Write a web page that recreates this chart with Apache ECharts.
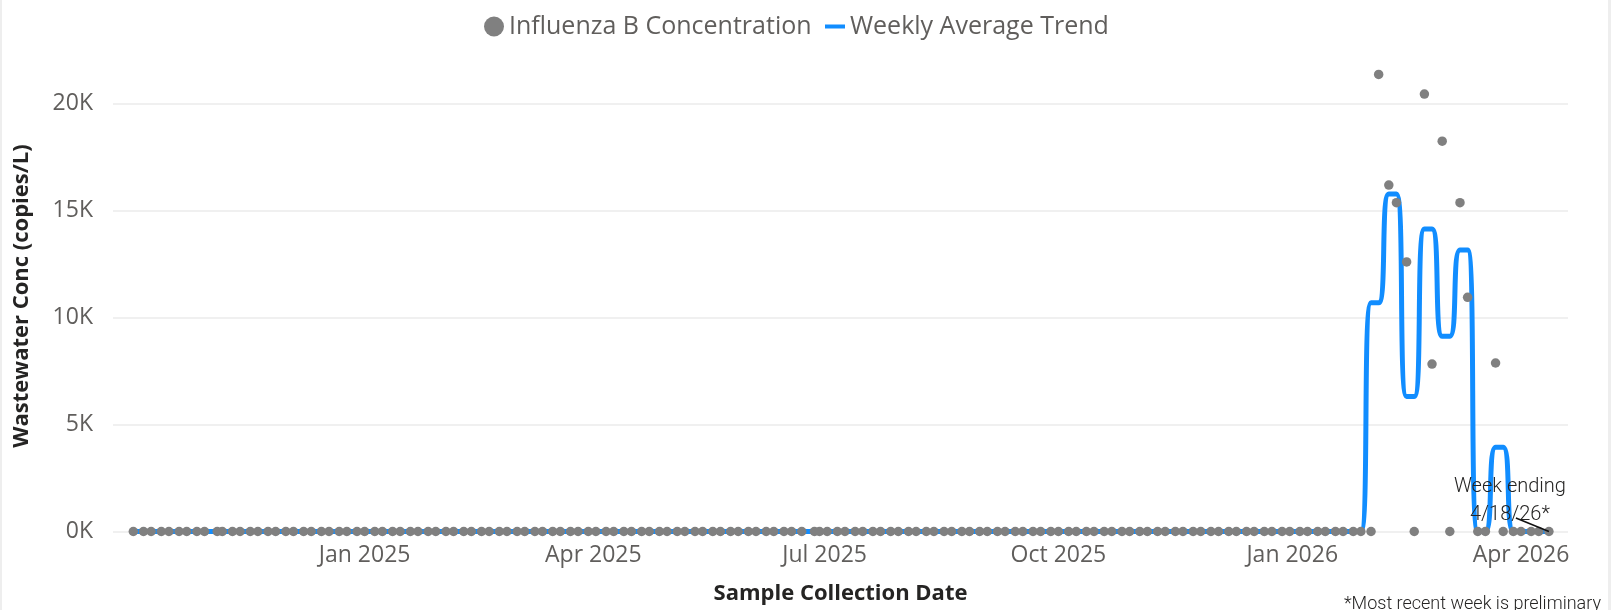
<!DOCTYPE html>
<html>
<head>
<meta charset="utf-8">
<script src="https://cdn.jsdelivr.net/npm/echarts@6/dist/echarts.min.js"></script>
<style>
html,body{margin:0;padding:0;background:#fff;}
#chart{width:1621px;height:610px;}
</style>
</head>
<body>
<div id="chart"></div>
<script>
// Sample collection dates (rows = months)
const sampleDates = [
 '2024-10-02','2024-10-06','2024-10-09','2024-10-13','2024-10-16','2024-10-20','2024-10-23','2024-10-27','2024-10-30',
 '2024-11-04','2024-11-06','2024-11-10','2024-11-13','2024-11-17','2024-11-20','2024-11-24','2024-11-27',
 '2024-12-01','2024-12-04','2024-12-08','2024-12-11','2024-12-15','2024-12-18','2024-12-22','2024-12-25','2024-12-29',
 '2025-01-01','2025-01-05','2025-01-08','2025-01-12','2025-01-15','2025-01-19','2025-01-22','2025-01-26','2025-01-29',
 '2025-02-02','2025-02-05','2025-02-09','2025-02-12','2025-02-16','2025-02-19','2025-02-23','2025-02-26',
 '2025-03-02','2025-03-05','2025-03-09','2025-03-12','2025-03-16','2025-03-19','2025-03-23','2025-03-26','2025-03-30',
 '2025-04-02','2025-04-06','2025-04-09','2025-04-13','2025-04-16','2025-04-20','2025-04-23','2025-04-27','2025-04-30',
 '2025-05-04','2025-05-07','2025-05-11','2025-05-14','2025-05-18','2025-05-21','2025-05-25','2025-05-28',
 '2025-06-01','2025-06-04','2025-06-08','2025-06-11','2025-06-15','2025-06-18','2025-06-22','2025-06-27','2025-06-29',
 '2025-07-02','2025-07-06','2025-07-09','2025-07-13','2025-07-16','2025-07-20','2025-07-23','2025-07-27','2025-07-30',
 '2025-08-03','2025-08-06','2025-08-10','2025-08-13','2025-08-17','2025-08-20','2025-08-24','2025-08-27','2025-08-31',
 '2025-09-03','2025-09-07','2025-09-10','2025-09-14','2025-09-17','2025-09-21','2025-09-24','2025-09-28',
 '2025-10-01','2025-10-05','2025-10-08','2025-10-12','2025-10-15','2025-10-19','2025-10-22','2025-10-26','2025-10-29',
 '2025-11-02','2025-11-05','2025-11-09','2025-11-12','2025-11-16','2025-11-19','2025-11-23','2025-11-26','2025-11-30',
 '2025-12-03','2025-12-07','2025-12-10','2025-12-14','2025-12-17','2025-12-21','2025-12-24','2025-12-28','2025-12-31',
 '2026-01-04','2026-01-07','2026-01-11','2026-01-14','2026-01-18','2026-01-21','2026-01-25','2026-01-28',
 '2026-02-01','2026-02-04','2026-02-08','2026-02-11','2026-02-15','2026-02-18','2026-02-22','2026-02-25',
 '2026-03-01','2026-03-04','2026-03-08','2026-03-11','2026-03-15','2026-03-18','2026-03-22','2026-03-25','2026-03-29',
 '2026-04-01','2026-04-05','2026-04-08','2026-04-12'
];

// Influenza B concentration per sample (copies/L), same row layout
const concentration = [
 0,0,0,0,0,0,0,0,0,
 0,0,0,0,0,0,0,0,
 0,0,0,0,0,0,0,0,0,
 0,0,0,0,0,0,0,0,0,
 0,0,0,0,0,0,0,0,
 0,0,0,0,0,0,0,0,0,
 0,0,0,0,0,0,0,0,0,
 0,0,0,0,0,0,0,0,
 0,0,0,0,0,0,0,0,0,
 0,0,0,0,0,0,0,0,0,
 0,0,0,0,0,0,0,0,0,
 0,0,0,0,0,0,0,0,
 0,0,0,0,0,0,0,0,0,
 0,0,0,0,0,0,0,0,0,
 0,0,0,0,0,0,0,0,0,
 0,0,0,0,0,0,0,0,
 0,21350,16180,15360,12590,0,20430,7820,
 18230,0,15360,10940,0,0,7870,0,0,
 0,0,0,0
];

// Weekly average trend value shown at each sample date
const weeklyAverage = [
 0,0,0,0,0,0,0,0,0,
 0,0,0,0,0,0,0,0,
 0,0,0,0,0,0,0,0,0,
 0,0,0,0,0,0,0,0,0,
 0,0,0,0,0,0,0,0,
 0,0,0,0,0,0,0,0,0,
 0,0,0,0,0,0,0,0,0,
 0,0,0,0,0,0,0,0,
 0,0,0,0,0,0,0,0,0,
 0,0,0,0,0,0,0,0,0,
 0,0,0,0,0,0,0,0,0,
 0,0,0,0,0,0,0,0,
 0,0,0,0,0,0,0,0,0,
 0,0,0,0,0,0,0,0,0,
 0,0,0,0,0,0,0,0,0,
 0,0,0,0,0,0,0,0,
 10680,10680,15770,15770,6300,6300,14130,14130,
 9120,9120,13150,13150,0,0,3940,3940,0,
 0,0,0,0
];

const tickDates = ['2025-01-01','2025-04-01','2025-07-01','2025-10-01','2026-01-01','2026-04-01'];
const tickLabels = ['Jan 2025','Apr 2025','Jul 2025','Oct 2025','Jan 2026','Apr 2026'];
const xRange = ['2024-09-24T00:00:00','2026-04-19T12:00:00'];
const annotationText = 'Week ending\n4/18/26*';
const annotationEnd = ['2026-03-30T00:00:00', 630];
const footnote = '*Most recent week is preliminary';

function toTime(s){ return new Date(s.length === 10 ? s + 'T00:00:00' : s).getTime(); }
const tickTimes = tickDates.map(toTime);
const lastIdx = sampleDates.length - 1;

const FONT = '"Open Sans", "Noto Sans", sans-serif';
const DIN = 'Roboto, "DejaVu Sans Condensed", sans-serif';

const chart = echarts.init(document.getElementById('chart'), null, {renderer: 'canvas'});

const scatterData = sampleDates.map((d, i) => {
  const item = { value: [toTime(d), concentration[i]] };
  if (i === lastIdx) {
    item.label = {
      show: true,
      formatter: annotationText,
      position: 'top',
      distance: 5,
      offset: [-39, 7],
      fontFamily: DIN,
      fontSize: 20,
      lineHeight: 28,
      fontWeight: 300,
      color: '#252423',
      align: 'center'
    };
  }
  return item;
});
const lineData = sampleDates.map((d, i) => [toTime(d), weeklyAverage[i]]);

chart.setOption({
  animation: false,
  backgroundColor: '#ffffff',
  legend: [
    {
      data: ['Influenza B Concentration'],
      left: 484, top: 14, padding: 0,
      icon: 'circle', itemWidth: 20, itemHeight: 20,
      itemStyle: { borderWidth: 0, opacity: 1 },
      textStyle: { fontFamily: FONT, fontSize: 25, color: '#605E5C' },
      selectedMode: false
    },
    {
      data: ['Weekly Average Trend'],
      left: 825, top: 14, padding: 0,
      icon: 'rect', itemWidth: 20, itemHeight: 4,
      itemStyle: { borderWidth: 0 },
      textStyle: { fontFamily: FONT, fontSize: 25, color: '#605E5C' },
      selectedMode: false
    }
  ],
  grid: { left: 113, right: 53, top: 60.5, bottom: 78.5, containLabel: false, outerBoundsMode: 'none' },
  xAxis: {
    type: 'value',
    min: toTime(xRange[0]),
    max: toTime(xRange[1]),
    axisLine: { show: false },
    axisTick: { show: false },
    splitLine: { show: false },
    axisLabel: {
      customValues: tickTimes,
      formatter: function (v) { const k = tickTimes.indexOf(v); return k >= 0 ? tickLabels[k] : ''; },
      fontFamily: FONT, fontSize: 23, color: '#605E5C', margin: 12,
      hideOverlap: false
    },
    name: 'Sample Collection Date',
    nameLocation: 'middle',
    nameGap: 51,
    nameTextStyle: { fontFamily: FONT, fontSize: 22, fontWeight: 'bold', color: '#252423' }
  },
  yAxis: {
    type: 'value',
    min: 0, max: 22000, interval: 5000,
    axisLine: { show: false },
    axisTick: { show: false },
    axisLabel: {
      formatter: v => (v / 1000) + 'K',
      showMaxLabel: false,
      fontFamily: FONT, fontSize: 23, color: '#605E5C', margin: 20
    },
    splitLine: { show: true, showMaxLine: false, lineStyle: { color: '#EBEBEB', width: 1.5 } },
    name: 'Wastewater Conc (copies/L)',
    nameLocation: 'middle',
    nameGap: 80,
    nameTextStyle: { fontFamily: FONT, fontSize: 22, fontWeight: 'bold', color: '#252423' }
  },
  series: [
    {
      name: 'Influenza B Concentration',
      type: 'scatter',
      data: scatterData,
      symbolSize: 9.5,
      itemStyle: { color: '#808080', opacity: 1 },
      z: 3,
      markLine: {
        silent: true,
        symbol: ['none', 'none'],
        label: { show: false },
        lineStyle: { color: '#111111', width: 1.5, type: 'solid' },
        data: [[
          { coord: [toTime(sampleDates[lastIdx]), concentration[lastIdx]] },
          { coord: [toTime(annotationEnd[0]), annotationEnd[1]] }
        ]]
      }
    },
    {
      name: 'Weekly Average Trend',
      type: 'line',
      data: lineData,
      smooth: 0.5,
      showSymbol: false,
      symbol: 'none',
      lineStyle: { width: 5, color: '#118DFF' },
      itemStyle: { color: '#118DFF' },
      z: 2
    }
  ],
  graphic: [
    { type: 'rect', left: 0, top: 0, shape: { width: 2, height: 610 }, style: { fill: '#EEEEEE' }, silent: true },
    { type: 'rect', left: 1608, top: 0, shape: { width: 3, height: 610 }, style: { fill: '#EEEEEE' }, silent: true },
    {
      type: 'text', right: 20, top: 595,
      style: { text: footnote, font: '300 18px ' + DIN, fill: '#252423' },
      silent: true
    }
  ]
});
</script>
</body>
</html>
